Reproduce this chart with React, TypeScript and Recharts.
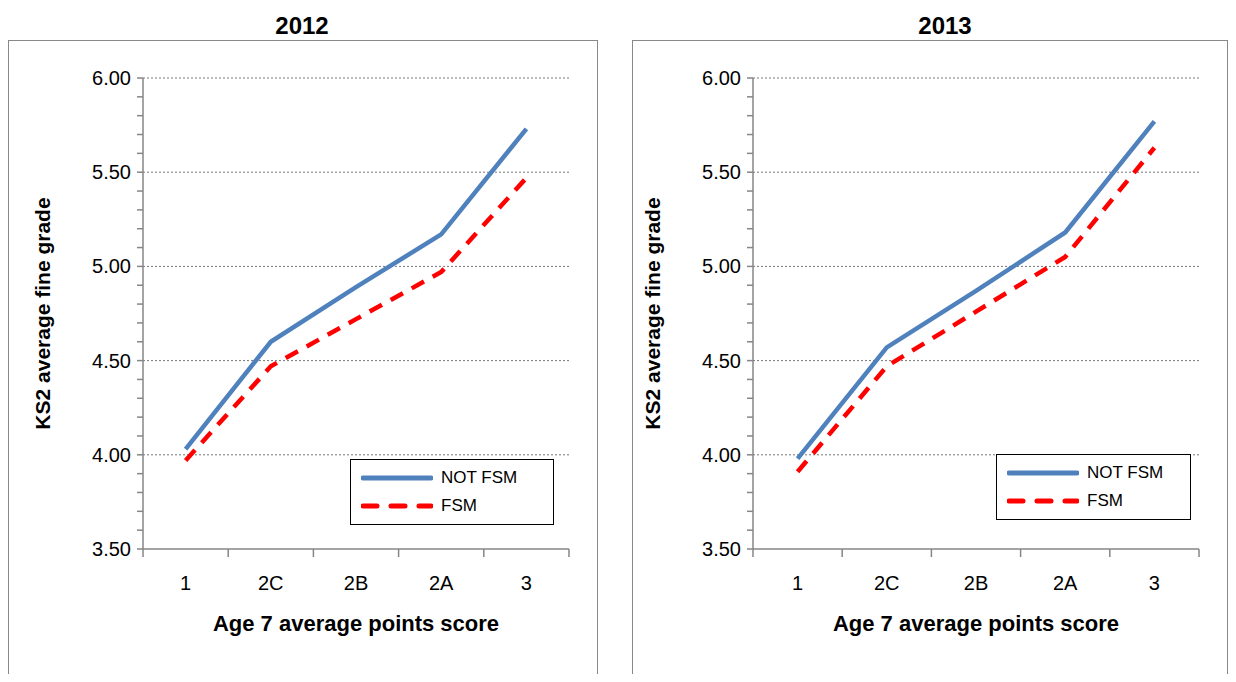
import { CartesianGrid, Line, LineChart, XAxis, YAxis } from "recharts";

const categories = ["1", "2C", "2B", "2A", "3"];
const notFsm2012 = [4.03, 4.6, 4.89, 5.17, 5.73];
const fsm2012 = [3.97, 4.47, 4.72, 4.97, 5.47];
const notFsm2013 = [3.98, 4.57, 4.87, 5.18, 5.77];
const fsm2013 = [3.91, 4.47, 4.76, 5.05, 5.63];
const minorTicks = [3.5, 3.6, 3.7, 3.8, 3.9, 4.0, 4.1, 4.2, 4.3, 4.4, 4.5, 4.6, 4.7, 4.8, 4.9, 5.0, 5.1, 5.2, 5.3, 5.4, 5.5, 5.6, 5.7, 5.8, 5.9, 6.0];
const gridValues = [4.0, 4.5, 5.0, 5.5, 6.0];

const FONT = "'Liberation Sans', Arial, sans-serif";
const AXIS = "#868686";
const BLUE = "#4f81bd";
const RED = "#ff0000";

function LegendBox({ left, top, width }: any) {
  return (
    <div style={{ position: "absolute", left, top, border: "1.5px solid #000", background: "#fff", padding: "4px 10px", width, fontFamily: FONT, fontSize: 17, boxSizing: "border-box" }}>
      <div style={{ display: "flex", alignItems: "center", gap: 8, height: 28 }}>
        <svg width={72} height={8}><line x1={2} y1={4} x2={70} y2={4} stroke={BLUE} strokeWidth={5} strokeLinecap="round" /></svg>
        NOT FSM
      </div>
      <div style={{ display: "flex", alignItems: "center", gap: 8, height: 28 }}>
        <svg width={72} height={8}><line x1={2} y1={4} x2={70} y2={4} stroke={RED} strokeWidth={5} strokeDasharray="14 14" strokeLinecap="round" /></svg>
        FSM
      </div>
    </div>
  );
}

function CatTick(props: any) {
  const { x, y, payload, index, band } = props;
  return (
    <g>
      <line x1={x - band / 2} y1={y - 8} x2={x - band / 2} y2={y} stroke={AXIS} strokeWidth={1.5} />
      {index === categories.length - 1 && (
        <line x1={x + band / 2} y1={y - 8} x2={x + band / 2} y2={y} stroke={AXIS} strokeWidth={1.5} />
      )}
      <text x={x} y={y + 33} textAnchor="middle" fill="#000" fontSize={20} fontFamily={FONT}>{payload.value}</text>
    </g>
  );
}

function YTick(props: any) {
  const { x, y, payload } = props;
  const v = payload.value;
  const major = Math.abs(v * 2 - Math.round(v * 2)) < 1e-6;
  return major ? (
    <text x={x - 4} y={y + 7} textAnchor="end" fill="#000" fontSize={20} fontFamily={FONT}>{v.toFixed(2)}</text>
  ) : null;
}

function Panel({ title, notFsm, fsm, left, width, axisOffset, titleX, legend }: any) {
  const data = categories.map((c, i) => ({ cat: c, notFsm: notFsm[i], fsm: fsm[i] }));
  const plotW = width - axisOffset - 30;
  const band = plotW / categories.length;
  return (
    <>
      <div style={{ position: "absolute", left: titleX - 60, width: 120, top: 12, textAlign: "center", fontFamily: FONT, fontWeight: "bold", fontSize: 24 }}>{title}</div>
      <div style={{ position: "absolute", left, top: 40, width, height: 660, border: "1.5px solid #888", boxSizing: "border-box" }}>
        <LineChart width={width} height={642} data={data} margin={{ top: 37, right: 30, left: 0, bottom: 44 }}>
          <CartesianGrid horizontal vertical={false} horizontalValues={gridValues} stroke="#777" strokeDasharray="2 2" />
          <XAxis dataKey="cat" axisLine={{ stroke: AXIS, strokeWidth: 1.5 }} tickLine={false} interval={0} height={90}
            padding={{ left: band / 2, right: band / 2 }}
            tick={(p: any) => <CatTick {...p} band={band} />}
            label={{ value: "Age 7 average points score", position: "insideBottom", offset: 0, fill: "#000", fontSize: 22, fontWeight: "bold", fontFamily: FONT, dy: -8 }} />
          <YAxis type="number" domain={[3.5, 6]} ticks={minorTicks} interval={0} width={axisOffset}
            axisLine={{ stroke: AXIS, strokeWidth: 1.5 }} tickLine={{ stroke: AXIS, strokeWidth: 1.5 }} tickSize={6}
            tick={<YTick />}
            label={{ value: "KS2 average fine grade", angle: -90, position: "insideLeft", offset: axisOffset - 100, fill: "#000", fontSize: 21, fontWeight: "bold", fontFamily: FONT, style: { textAnchor: "middle" } }} />
          <Line dataKey="notFsm" stroke={BLUE} strokeWidth={4.5} dot={false} isAnimationActive={false} />
          <Line dataKey="fsm" stroke={RED} strokeWidth={4.5} strokeDasharray="14 10" dot={false} isAnimationActive={false} />
        </LineChart>
        <LegendBox {...legend} />
      </div>
    </>
  );
}

export default function App() {
  return (
    <div style={{ position: "relative", width: 1236, height: 682, overflow: "hidden", margin: -8, background: "#fff" }}>
      <Panel title="2012" notFsm={notFsm2012} fsm={fsm2012} left={8} width={590} axisOffset={134} titleX={302} legend={{ left: 341, top: 418, width: 204 }} />
      <Panel title="2013" notFsm={notFsm2013} fsm={fsm2013} left={632} width={596} axisOffset={120} titleX={945} legend={{ left: 363, top: 413, width: 195 }} />
    </div>
  );
}
